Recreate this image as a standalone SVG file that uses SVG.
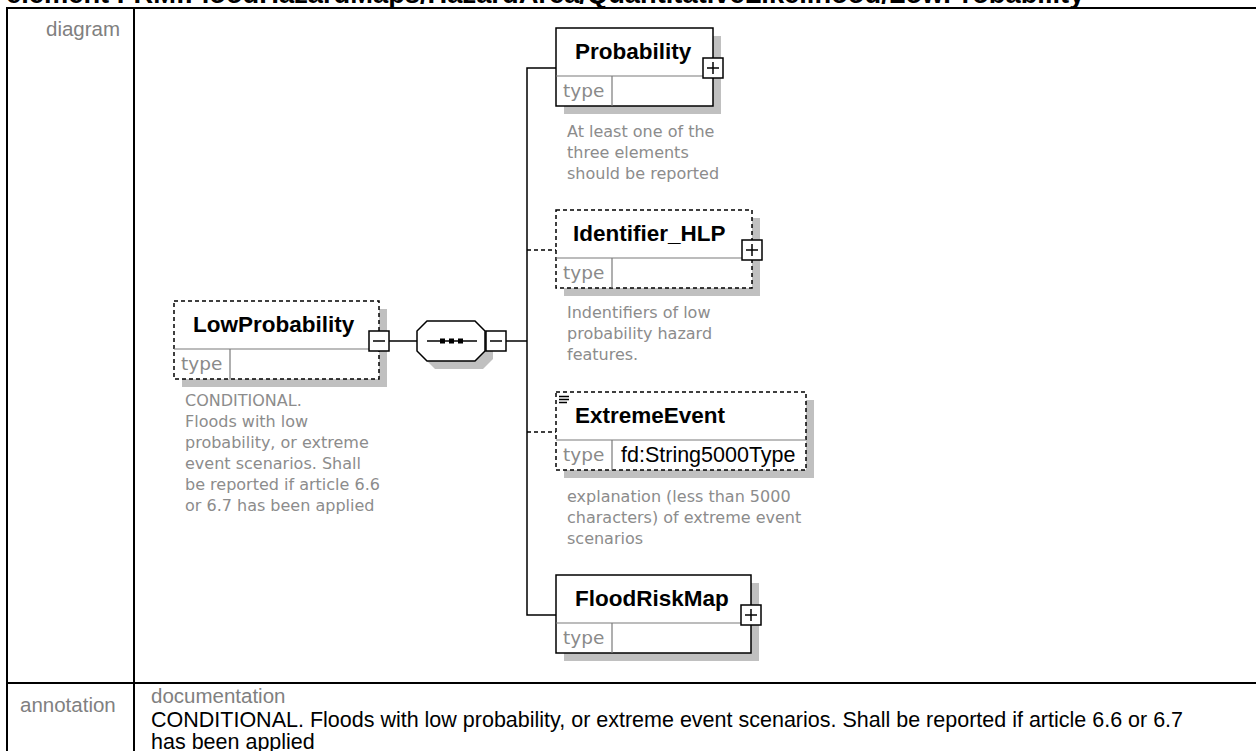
<svg xmlns="http://www.w3.org/2000/svg" width="1256" height="751" viewBox="0 0 1256 751">
<style>
.tbl{stroke:#000;stroke-width:2;fill:none}
.lbl{font-family:"Liberation Sans",Arial,sans-serif;font-size:20.5px;fill:#808080}
.title{font-family:"Liberation Sans",Arial,sans-serif;font-size:27.3px;font-weight:bold;fill:#000}
.ann{font-family:"Liberation Sans",Arial,sans-serif;font-size:21.5px;fill:#000}
.shadow{fill:#c0c0c0}
.box{fill:#fff;stroke:#000;stroke-width:1.5}
.dash{stroke-dasharray:4 3}
.sep{stroke:#7a7a7a;stroke-width:1.2}
.name{font-family:"Liberation Sans",Arial,sans-serif;font-weight:bold;font-size:22.5px;fill:#000}
.type{font-family:"DejaVu Sans",sans-serif;font-size:18.5px;fill:#8a8a8a}
.tval{font-family:"Liberation Sans",Arial,sans-serif;font-size:21.5px;fill:#000}
.doc{font-family:"DejaVu Sans",sans-serif;font-size:16px;fill:#8c8c8c}
.conn{stroke:#000;stroke-width:1.5;fill:none}
.pm{fill:#fff;stroke:#000;stroke-width:1.5}
.sym{stroke:#000;stroke-width:1.5}
</style>
<rect width="1256" height="751" fill="#fff"/>
<g id="table">
<text class="title" x="6" y="3">element FRM:FloodHazardMaps/HazardArea/QuantitativeLikelihood/LowProbability</text>
<line class="tbl" x1="6" y1="8" x2="1256" y2="8"/>
<line class="tbl" x1="7" y1="8" x2="7" y2="751"/>
<line class="tbl" x1="134" y1="8" x2="134" y2="751"/>
<line class="tbl" x1="7" y1="683" x2="1256" y2="683"/>
<text class="lbl" x="46" y="36">diagram</text>
<text class="lbl" x="20" y="712">annotation</text>
<text class="lbl" x="151" y="703">documentation</text>
<text class="ann" x="151" y="727">CONDITIONAL. Floods with low probability, or extreme event scenarios. Shall be reported if article 6.6 or 6.7</text>
<text class="ann" x="151" y="749">has been applied</text>
</g>
<g id="connectors" class="conn">
<line x1="389" y1="341" x2="417" y2="341"/>
<line x1="506" y1="341" x2="527" y2="341"/>
<polyline points="556,68 527,68 527,615 556,615"/>
<line x1="527" y1="250" x2="556" y2="250" class="dash"/>
<line x1="527" y1="432" x2="556" y2="432" class="dash"/>
</g>
<g id="LowProbability">
<rect class="shadow" x="182" y="309" width="205" height="78"/>
<rect class="box dash" x="174" y="301" width="205" height="78"/>
<line class="sep" x1="174" y1="349" x2="379" y2="349"/>
<line class="sep" x1="230" y1="349" x2="230" y2="379"/>
<text class="name" x="193" y="332">LowProbability</text>
<text class="type" x="181" y="370">type</text>
<rect class="pm" x="369" y="331" width="20" height="20"/>
<line class="sym" x1="373" y1="341" x2="385" y2="341"/>
<text class="doc"><tspan x="185" y="406">CONDITIONAL.</tspan><tspan x="185" y="427">Floods with low</tspan><tspan x="185" y="448">probability, or extreme</tspan><tspan x="185" y="469">event scenarios. Shall</tspan><tspan x="185" y="490">be reported if article 6.6</tspan><tspan x="185" y="511">or 6.7 has been applied</tspan></text>
</g>
<g id="sequence">
<polygon class="shadow" points="435,329 483,329 493,339 493,359 483,369 435,369 425,359 425,339"/>
<polygon class="box" points="427,321 475,321 485,331 485,351 475,361 427,361 417,351 417,331"/>
<line class="sym" x1="427" y1="341" x2="477" y2="341"/>
<rect x="440" y="338.5" width="5" height="5" fill="#000"/>
<rect x="449" y="338.5" width="5" height="5" fill="#000"/>
<rect x="458" y="338.5" width="5" height="5" fill="#000"/>
<rect class="pm" x="486" y="331" width="20" height="20"/>
<line class="sym" x1="490" y1="341" x2="502" y2="341"/>
</g>
<g id="Probability">
<rect class="shadow" x="564" y="36" width="157" height="78"/>
<rect class="box" x="556" y="28" width="157" height="78"/>
<line class="sep" x1="556" y1="76" x2="713" y2="76"/>
<line class="sep" x1="612" y1="76" x2="612" y2="106"/>
<text class="name" x="575" y="59">Probability</text>
<text class="type" x="563" y="97">type</text>
<rect class="pm" x="703" y="58" width="20" height="20"/>
<line class="sym" x1="707" y1="68" x2="719" y2="68"/>
<line class="sym" x1="713" y1="62" x2="713" y2="74"/>
<text class="doc"><tspan x="567" y="137">At least one of the</tspan><tspan x="567" y="158">three elements</tspan><tspan x="567" y="179">should be reported</tspan></text>
</g>
<g id="Identifier_HLP">
<rect class="shadow" x="564" y="218" width="196" height="78"/>
<rect class="box dash" x="556" y="210" width="196" height="78"/>
<line class="sep" x1="556" y1="258" x2="752" y2="258"/>
<line class="sep" x1="612" y1="258" x2="612" y2="288"/>
<text class="name" x="573" y="241">Identifier_HLP</text>
<text class="type" x="563" y="279">type</text>
<rect class="pm" x="742" y="240" width="20" height="20"/>
<line class="sym" x1="746" y1="250" x2="758" y2="250"/>
<line class="sym" x1="752" y1="244" x2="752" y2="256"/>
<text class="doc"><tspan x="567" y="318">Indentifiers of  low</tspan><tspan x="567" y="339">probability hazard</tspan><tspan x="567" y="360">features.</tspan></text>
</g>
<g id="ExtremeEvent">
<rect class="shadow" x="564" y="400" width="250" height="78"/>
<rect class="box dash" x="556" y="392" width="250" height="78"/>
<line class="sep" x1="556" y1="440" x2="806" y2="440"/>
<line class="sep" x1="612" y1="440" x2="612" y2="470"/>
<line class="sym" x1="559" y1="396.5" x2="569" y2="396.5" stroke-width="1.2"/>
<line class="sym" x1="559" y1="399.5" x2="569" y2="399.5" stroke-width="1.2"/>
<line class="sym" x1="559" y1="402.5" x2="567" y2="402.5" stroke-width="1.2"/>
<text class="name" x="575" y="423">ExtremeEvent</text>
<text class="type" x="563" y="461">type</text>
<text class="tval" x="621" y="462">fd:String5000Type</text>
<text class="doc"><tspan x="567" y="502">explanation (less than 5000</tspan><tspan x="567" y="523">characters) of extreme event</tspan><tspan x="567" y="544">scenarios</tspan></text>
</g>
<g id="FloodRiskMap">
<rect class="shadow" x="564" y="583" width="195" height="78"/>
<rect class="box" x="556" y="575" width="195" height="78"/>
<line class="sep" x1="556" y1="623" x2="751" y2="623"/>
<line class="sep" x1="612" y1="623" x2="612" y2="653"/>
<text class="name" x="575" y="606">FloodRiskMap</text>
<text class="type" x="563" y="644">type</text>
<rect class="pm" x="741" y="605" width="20" height="20"/>
<line class="sym" x1="745" y1="615" x2="757" y2="615"/>
<line class="sym" x1="751" y1="609" x2="751" y2="621"/>
</g>
</svg>
